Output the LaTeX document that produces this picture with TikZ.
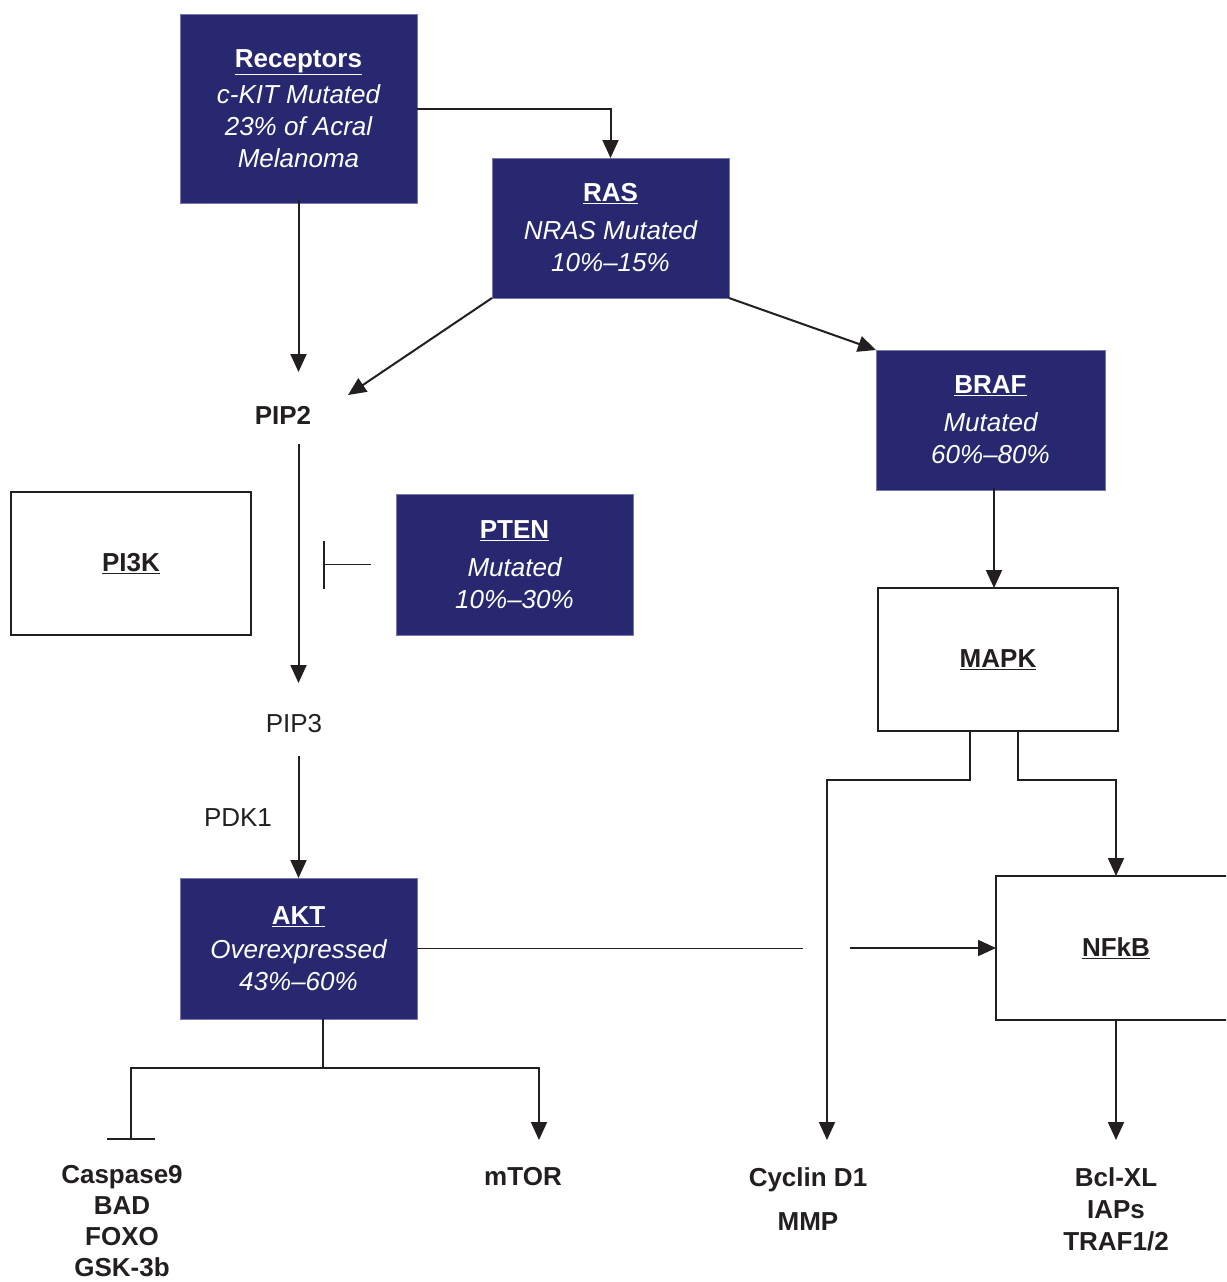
\documentclass[tikz,border=0pt]{standalone}
\usepackage{fontspec}
\setmainfont{Liberation Sans}
\usetikzlibrary{arrows.meta}
\definecolor{navy}{RGB}{39,40,112}
\definecolor{navyedge}{RGB}{120,122,170}
\definecolor{ink}{RGB}{35,31,32}
\newcommand{\ttl}[1]{\underline{\textbf{#1}}}
\tikzset{
  txt/.style={font=\fontsize{26}{32}\selectfont, align=center, inner sep=0pt},
  bluebox/.style={txt, fill=navy, draw=navyedge, line width=0.8pt, text=white, outer sep=0pt},
  whitebox/.style={txt, fill=white, draw=ink, line width=2pt, text=ink, outer sep=0pt},
  lbl/.style={txt, text=ink, font=\fontsize{26}{32}\selectfont\bfseries},
  plain/.style={txt, text=ink},
  conn/.style={draw=ink, line width=2pt},
  arr/.style={conn, -{Triangle[length=18pt,width=16pt]}},
  inh/.style={draw=ink, line width=1.6pt, -{Bar[width=48pt,line width=1.6pt]}},
}
\begin{document}
\begin{tikzpicture}[x=1pt,y=-1pt]
\useasboundingbox (0,0) rectangle (1226,1282);
\clip (0,0) rectangle (1226,1282);

% boxes
\node[bluebox, minimum width=237pt, minimum height=189pt] (rec) at (298.5,108.5)
  {\ttl{Receptors}\\[4pt]\itshape c-KIT Mutated\\\itshape 23\% of Acral\\\itshape Melanoma};
\node[bluebox, minimum width=237pt, minimum height=140pt] (ras) at (610.5,228)
  {\ttl{RAS}\\[6pt]\itshape NRAS Mutated\\\itshape 10\%--15\%};
\node[bluebox, minimum width=229pt, minimum height=140pt] (braf) at (990.5,420)
  {\ttl{BRAF}\\[6pt]\itshape Mutated\\\itshape 60\%--80\%};
\node[bluebox, minimum width=237pt, minimum height=141pt] (pten) at (514.5,564.5)
  {\ttl{PTEN}\\[6pt]\itshape Mutated\\\itshape 10\%--30\%};
\node[bluebox, minimum width=237pt, minimum height=141pt] (akt) at (298.5,948.5)
  {\ttl{AKT}\\[2pt]\itshape Overexpressed\\\itshape 43\%--60\%};
\node[whitebox, minimum width=240pt, minimum height=143pt] (pi3k) at (131,563.5) {\ttl{PI3K}};
\node[whitebox, minimum width=240pt, minimum height=143pt] (mapk) at (998,659.5) {\ttl{MAPK}};
\node[whitebox, minimum width=240pt, minimum height=144pt] (nfkb) at (1116,948) {\ttl{NFkB}};

% free labels
\node[lbl] (pip2) at (283,415) {PIP2};
\node[plain] (pip3) at (294,724) {PIP3};
\node[plain] (pdk1) at (238,818) {PDK1};
\node[lbl, anchor=north, font=\fontsize{26}{31}\selectfont\bfseries] (casp) at (122,1165) {Caspase9\\BAD\\FOXO\\GSK-3b};
\node[lbl, anchor=north] (mtor) at (523,1167) {mTOR};
\node[lbl, anchor=north] (cyc) at (808,1167) {Cyclin D1\\[12pt]MMP};
\node[lbl, anchor=north] (bcl) at (1116,1167) {Bcl-XL\\IAPs\\TRAF1/2};

% connector end points
\coordinate (pip2in) at (298.5,372);
\coordinate (pip2side) at (348,395);
\coordinate (pip2out) at (298.5,444);
\coordinate (pip3in) at (298.5,683);
\coordinate (pip3out) at (298.5,756);
\coordinate (ptenbar) at (323,564.5);
\coordinate (aktb) at (323,1068);
\coordinate (caspin) at (131,1140);
\coordinate (mtorin) at (539,1140);
\coordinate (cycin) at (827,1140);
\coordinate (bclin) at (1116,1140);
\coordinate (gapL) at (803,948.5);
\coordinate (gapR) at (850,948);

% connectors
\draw[arr] (rec.east) -| (ras.north);
\draw[arr] ([yshift=3]rec.south) -- (pip2in);
\draw[arr] (ras.south west) -- (pip2side);
\draw[arr] (ras.south east) -- (braf.north west);
\draw[arr] (pip2out) -- (pip3in);
\draw[inh] ([xshift=-25]pten.west) -- (ptenbar);
\draw[arr] (pip3out) -- (akt.north -| pip3out);
\draw[arr] ([xshift=3.5,yshift=2]braf.south) -- ([xshift=-4]mapk.north);
\draw[arr] ([xshift=-28]mapk.south) -- ++(0,49) -| (cycin);
\draw[arr] ([xshift=20]mapk.south) -- ++(0,49) -| (nfkb.north);
\draw[conn, line width=1.8pt] (akt.east) -- (gapL);
\draw[arr] (gapR) -- (nfkb.west);
\draw[conn] (akt.south -| aktb) -- (aktb);
\draw[inh, line width=2pt] (aktb) -| (caspin);
\draw[arr] (aktb) -| (mtorin);
\draw[arr] (nfkb.south) -- (bclin);
\end{tikzpicture}
\end{document}
